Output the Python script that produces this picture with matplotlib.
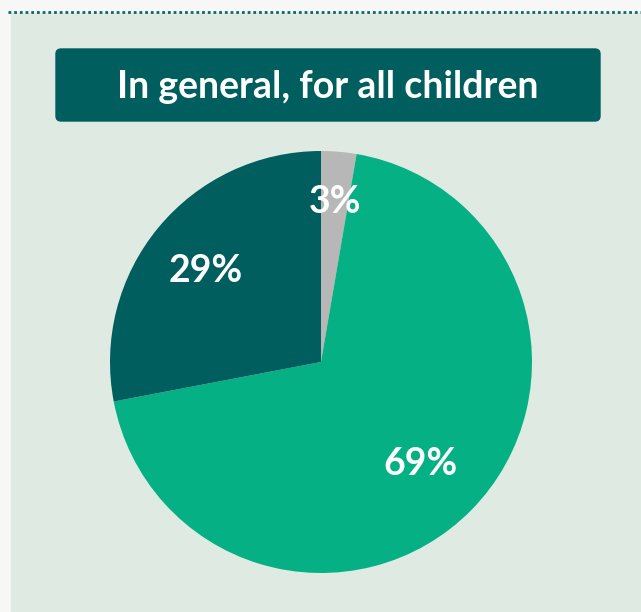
import matplotlib.pyplot as plt
from matplotlib.patches import Rectangle, FancyBboxPatch
from matplotlib.lines import Line2D
from matplotlib.transforms import offset_copy
import numpy as np

# data (wedge sizes; labels as printed)
labels = ['Other', 'Yes', 'No']
shares = [2.7, 69.3, 28.0]
pct_labels = ['3%', '69%', '29%']
colors = ['#b7b7b7', '#05b084', '#005e5e']
label_r = [0.78, 0.66, 0.71]
title = 'In general, for all children'

W, H = 641, 612
fig = plt.figure(figsize=(W / 100, H / 100), dpi=100)
fig.patch.set_facecolor('#f7f7f7')

# background panel + dotted rule on top
fig.patches.append(Rectangle((11 / W, 0), 1 - 11 / W, (H - 13) / H,
                             transform=fig.transFigure, color='#dfebe2', zorder=0))
fig.lines.append(Line2D([8 / W, 1], [(H - 11.5) / H] * 2, transform=fig.transFigure,
                        color='#0b6b63', lw=2.0, dashes=(1, 1.05), solid_capstyle='butt'))

# title box
fig.patches.append(FancyBboxPatch((56 / W, (H - 121) / H), 544 / W, 72 / H,
                                  boxstyle='round,pad=0,rounding_size=0.008',
                                  transform=fig.transFigure, color='#005e5e', zorder=1))
fig.text(328 / W, (H - 87) / H, title, ha='center', va='center', color='white',
         fontsize=27, fontweight='bold', family=['Lato', 'DejaVu Sans'])

# pie
cx, cy, r = 321, 362, 211
ax = fig.add_axes([(cx - r) / W, (H - cy - r) / H, 2 * r / W, 2 * r / H])
ax.set_zorder(3)
ax.set_aspect('equal')
wedges, _ = ax.pie(shares, colors=colors, startangle=90, counterclock=False,
                   wedgeprops=dict(linewidth=0))
ax.set_xlim(-1, 1)
ax.set_ylim(-1, 1)
ax.axis('off')

# labels sit a few px lower than the bbox centre
lab_tr = offset_copy(ax.transData, fig=fig, x=0, y=-4, units='dots')
for w, lab, lr in zip(wedges, pct_labels, label_r):
    mid = np.deg2rad((w.theta1 + w.theta2) / 2)
    ax.text(lr * np.cos(mid), lr * np.sin(mid), lab, ha='center', va='center',
            transform=lab_tr, color='white', fontsize=27, fontweight='bold',
            family=['Lato', 'DejaVu Sans'])

fig.savefig('out.png', dpi=100, facecolor=fig.get_facecolor())
